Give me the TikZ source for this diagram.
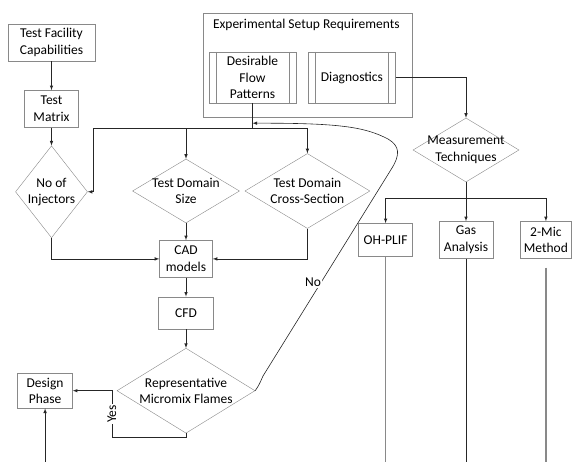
\documentclass[tikz,border=0pt]{standalone}
\usepackage{fontspec}
\setmainfont{Carlito}
\usetikzlibrary{positioning,arrows,shapes.geometric}
\definecolor{boxline}{RGB}{137,137,137}
\definecolor{linkline}{RGB}{38,38,38}

\tikzset{
  block/.style={draw=boxline, fill=white, align=center, inner sep=1pt,
    font=\fontsize{13.5}{16.5}\selectfont},
  decision/.style={diamond, draw=boxline, fill=white, align=center,
    inner sep=-12pt, font=\fontsize{13.5}{16.5}\selectfont},
  process/.style={block, path picture={
    \draw[boxline] ([xshift=7pt]path picture bounding box.north west)
      -- ([xshift=7pt]path picture bounding box.south west)
      ([xshift=-7pt]path picture bounding box.north east)
      -- ([xshift=-7pt]path picture bounding box.south east);}},
  link/.style={draw=linkline, line width=0.6pt, -latex},
  tagtext/.style={fill=white, inner sep=1pt, font=\fontsize{13.5}{16.5}\selectfont},
  tailgray/.style={draw=boxline, line width=1.2pt},
  tailblack/.style={draw=linkline, line width=0.7pt}
}

\begin{document}
\begin{tikzpicture}[x=1pt,y=1pt]
  \useasboundingbox (0,0) rectangle (572,-462);
  \coordinate (floor) at (0,-462);

  % Left column
  \node [block, minimum width=87pt, minimum height=37pt] (cap) at (51.5,-42.5) {Test Facility\\Capabilities};
  \node [block, minimum width=54pt, minimum height=37pt, below=29pt of cap] (testmat) {Test\\Matrix};
  \node [decision, aspect=0.78, minimum width=72pt, minimum height=92pt, below=18pt of testmat] (inj) {No of\\Injectors};

  % Setup requirements
  \node [block, minimum width=209pt, minimum height=104pt] (esr) at (307.5,-65) {};
  \node [anchor=north west, inner sep=2pt, font=\fontsize{13.5}{16.5}\selectfont] (esrtitle)
    at ([xshift=8pt,yshift=-4pt]esr.north west) {Experimental Setup Requirements};
  \node [process, minimum width=87pt, minimum height=51pt] (flow) at (252.5,-77.5) {Desirable\\Flow\\Patterns};
  \node [process, minimum width=87pt, minimum height=51pt, right=12pt of flow] (diag) {Diagnostics};

  % Middle column
  \node [decision, aspect=1.67, minimum width=107pt, minimum height=64pt] (size) at (186,-191) {Test Domain\\Size};
  \node [decision, aspect=1.67, minimum width=125pt, minimum height=75pt, right=5pt of size] (cross) {Test Domain\\Cross-Section};
  \node [block, minimum width=53pt, minimum height=37pt, below=17pt of size] (cad) {CAD\\models};
  \node [block, minimum width=55pt, minimum height=32pt, below=19pt of cad] (cfd) {CFD};
  \node [decision, aspect=1.62, minimum width=138pt, minimum height=85pt, below=19pt of cfd] (rep) {Representative\\Micromix Flames};
  \node [block, minimum width=55pt, minimum height=35pt, left=44pt of rep] (design) {Design\\Phase};

  % Right column
  \node [decision, aspect=1.66, minimum width=106pt, minimum height=64pt] (meas) at (466,-150) {Measurement\\Techniques};
  \node [block, minimum width=54pt, minimum height=37pt, below=39pt of meas] (gas) {Gas\\Analysis};
  \node [block, minimum width=54pt, minimum height=33pt, left=26pt of gas] (plif) {OH-PLIF};
  \node [block, minimum width=51pt, minimum height=37pt, right=27pt of gas] (mic) {2-Mic\\Method};

  % Flow into the test domain
  \coordinate (jn) at ([yshift=-25pt]flow.south);
  \coordinate (injin) at ([xshift=6pt]inj.east);
  \draw [link] (cap) -- (testmat);
  \draw [link] (testmat) -- (inj);
  \draw [draw=linkline, line width=0.6pt] (flow.south) -- (jn);
  \draw [link] (jn) -| (size.north);
  \draw [link] (jn) -| (cross.north);
  \draw [link] (jn) -| (injin) -- (inj.east);
  \draw [link] (inj.south) |- (cad.west);
  \draw [link] (size.south) -- (cad.north);
  \draw [link] (cross.south) |- (cad.east);
  \draw [link] (cad) -- (cfd);
  \draw [link] (cfd) -- (rep);

  % Yes / No
  \coordinate (yesturn) at ([xshift=39pt]design.east);
  \draw [link] (rep.south) -- ++(0,-4) -| (yesturn) node [tagtext, pos=0.75, rotate=90] {Yes} -- (design.east);
  \draw [link] (design.south |- floor) -- (design.south);
  \coordinate (noin) at ([yshift=5pt]jn);
  \draw [link] (rep.east) .. controls (259,-385) .. (263,-376)
    -- node [tagtext, pos=0.45, xshift=-8pt] {No} (392,-168)
    .. controls (400,-155) and (400,-146) .. (388,-139)
    .. controls (365,-127) and (340,-123) .. (noin);

  % Diagnostics
  \coordinate (br) at ([yshift=-16pt]meas.south);
  \coordinate (micgap) at ([yshift=-9pt]mic.south);
  \draw [link] (diag.east) -| (meas.north);
  \draw [link] (meas.south) -- (gas.north);
  \draw [link] (br) -| (plif.north);
  \draw [link] (br) -| (mic.north);
  \draw [tailgray] (plif.south) -- (plif.south |- floor);
  \draw [tailblack] (gas.south) -- (gas.south |- floor);
  \draw [tailgray] (micgap) -- (mic.south |- floor);

\end{tikzpicture}
\end{document}
